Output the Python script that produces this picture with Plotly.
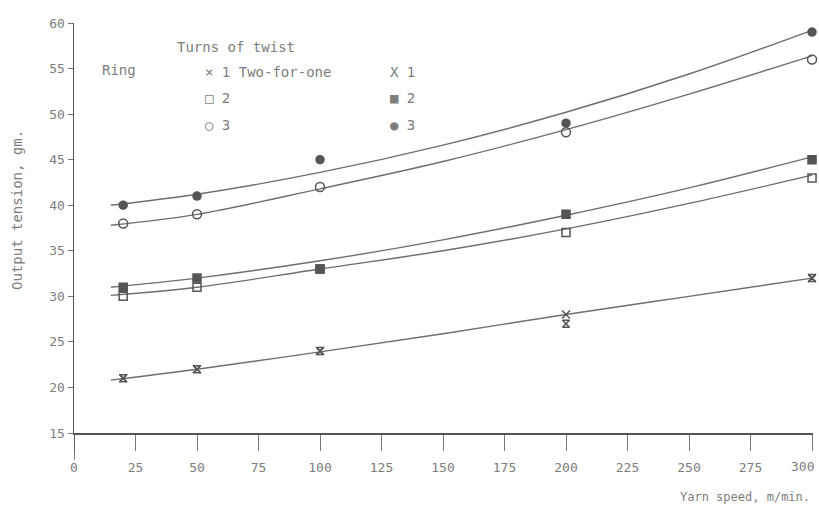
import plotly.graph_objects as go

# ---- data ----
speed = [20, 50, 100, 200, 300]  # yarn speed, m/min

ring_1 = [21, 22, 24, 28, 32]
ring_2 = [30, 31, 33, 37, 43]
ring_3 = [38, 39, 42, 48, 56]
tfo_1 = [21, 22, 24, 27, 32]
tfo_2 = [31, 32, 33, 39, 45]
tfo_3 = [40, 41, 45, 49, 59]

# fitted curves
curve_x = [15, 50, 100, 150, 200, 250, 300]
curve_tfo3 = [40.0, 41.2, 43.6, 46.6, 50.2, 54.4, 59.2]
curve_ring3 = [37.8, 39.0, 41.8, 44.8, 48.3, 52.2, 56.4]
curve_tfo2 = [31.0, 32.0, 33.9, 36.2, 38.9, 41.9, 45.3]
curve_ring2 = [30.1, 31.0, 33.0, 35.0, 37.4, 40.2, 43.3]
curve_twist1 = [20.8, 22.0, 23.9, 25.9, 28.0, 30.0, 32.0]

x_ticks = [0, 25, 50, 75, 100, 125, 150, 175, 200, 225, 250, 275, 300]
y_ticks = [15, 20, 25, 30, 35, 40, 45, 50, 55, 60]

LINE = "#6e6e6e"
MARK = "#555555"
TXT = "#7d7d7d"
FONT = "DejaVu Sans Mono"

fig = go.Figure()

for cy in [curve_tfo3, curve_ring3, curve_tfo2, curve_ring2, curve_twist1]:
    fig.add_trace(go.Scatter(x=curve_x, y=cy, mode="lines", cliponaxis=False,
                             line=dict(color=LINE, width=1.4, shape="spline", smoothing=1.0),
                             hoverinfo="skip", showlegend=False))

series = [
    (ring_1, "x-thin-open", 8, "Ring 1"),
    (tfo_1, "hourglass-open", 7, "Two-for-one 1"),
    (ring_2, "square-open", 8, "Ring 2"),
    (tfo_2, "square", 8, "Two-for-one 2"),
    (ring_3, "circle-open", 9, "Ring 3"),
    (tfo_3, "circle", 8, "Two-for-one 3"),
]
for ys, sym, sz, name in series:
    fig.add_trace(go.Scatter(x=speed, y=ys, mode="markers", name=name, cliponaxis=False,
                             marker=dict(symbol=sym, size=sz, color=MARK,
                                         line=dict(color=MARK, width=1.5)),
                             showlegend=False))

ann = []

# plot area spans x 74..813, y 23..433 (pixels)
def px(xp):
    return (xp - 74) / (813 - 74)
def py(yp):
    return (433 - yp) / (433 - 23)

def txt(xp, yp, s, size=14, anchor="left"):
    ann.append(dict(x=px(xp), y=py(yp), xref="paper", yref="paper", text=s, showarrow=False,
                    xanchor=anchor, yanchor="middle",
                    font=dict(family=FONT, size=size, color=TXT)))

# legend block
txt(175, 47, "Turns of twist")
txt(100, 70, "Ring")
txt(203, 72, "× 1 Two-for-one")
txt(203, 98, "□ 2")
txt(203, 125, "○ 3")
txt(388, 72, "X 1")
txt(388, 98, "■ 2")
txt(388, 125, "● 3")

# last x tick label kept inside the page (right-aligned to the tick)
tick_text = [str(v) for v in x_ticks]
last_label = tick_text[-1]
tick_text[-1] = ""
ann.append(dict(x=x_ticks[-1], y=0, xref="x", yref="paper", text=last_label,
                showarrow=False, xanchor="right", yanchor="top", yshift=-24, xshift=4,
                font=dict(family=FONT, size=13, color=TXT)))

# axis titles
ann.append(dict(x=px(17), y=py(210), xref="paper", yref="paper", text="Output tension, gm.",
                textangle=-90, showarrow=False, xanchor="center", yanchor="middle",
                font=dict(family=FONT, size=14, color=TXT)))
ann.append(dict(x=px(812), y=py(497), xref="paper", yref="paper", text="Yarn speed, m/min.",
                showarrow=False, xanchor="right", yanchor="middle",
                font=dict(family=FONT, size=12, color=TXT)))

fig.update_layout(
    width=819, height=509,
    margin=dict(l=74, r=6, t=23, b=76, autoexpand=False),
    paper_bgcolor="white", plot_bgcolor="white",
    annotations=ann,
    shapes=[dict(type="line", xref="x", yref="paper", x0=0, x1=0, y0=0, y1=-0.065,
                 line=dict(color="#555555", width=1.5))],
    xaxis=dict(range=[0, 300.4], tickvals=x_ticks, ticktext=tick_text,
               automargin=False,
               showgrid=False, zeroline=False, showline=True, linecolor="#555555", linewidth=1.5,
               ticks="outside", ticklen=16, tickcolor="#777777", tickwidth=1,
               ticklabelstandoff=6, ticklabeloverflow="allow",
               tickfont=dict(family=FONT, size=13, color=TXT)),
    yaxis=dict(range=[15, 60], tickvals=y_ticks, ticktext=[str(v) for v in y_ticks],
               automargin=False,
               showgrid=False, zeroline=False, showline=True, linecolor="#555555", linewidth=1.5,
               ticks="outside", ticklen=5, tickcolor="#777777", tickwidth=1,
               tickfont=dict(family=FONT, size=13, color=TXT)),
)

fig.write_html("out.html", config={"displayModeBar": False, "staticPlot": True},
               post_script="document.body.style.margin='0';document.body.style.overflow='hidden';")
